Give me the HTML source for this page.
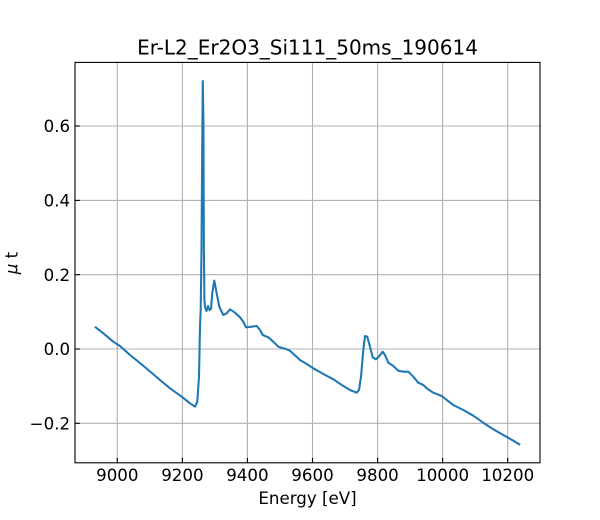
<!DOCTYPE html>
<html>
<head>
<meta charset="utf-8">
<style>
html,body{margin:0;padding:0;background:#fff;}
svg{display:block;}
text{font-family:"DejaVu Sans","Liberation Sans",sans-serif;fill:#000;}
</style>
</head>
<body>
<svg width="600" height="520" viewBox="0 0 600 520" xmlns="http://www.w3.org/2000/svg">
<rect x="0" y="0" width="600" height="520" fill="#fff"/>
<!-- grid -->
<g stroke="#b0b0b0" stroke-width="1.1" fill="none">
<line x1="117.3" y1="62.4" x2="117.3" y2="462.8"/>
<line x1="182.4" y1="62.4" x2="182.4" y2="462.8"/>
<line x1="247.4" y1="62.4" x2="247.4" y2="462.8"/>
<line x1="312.5" y1="62.4" x2="312.5" y2="462.8"/>
<line x1="377.6" y1="62.4" x2="377.6" y2="462.8"/>
<line x1="442.6" y1="62.4" x2="442.6" y2="462.8"/>
<line x1="507.7" y1="62.4" x2="507.7" y2="462.8"/>
<line x1="75" y1="423.3" x2="540" y2="423.3"/>
<line x1="75" y1="349" x2="540" y2="349"/>
<line x1="75" y1="274.7" x2="540" y2="274.7"/>
<line x1="75" y1="200.4" x2="540" y2="200.4"/>
<line x1="75" y1="126" x2="540" y2="126"/>
</g>
<!-- data -->
<polyline fill="none" stroke="#1f77b4" stroke-width="2.08" stroke-linejoin="round" stroke-linecap="square" points="
95.7,327.3 103.3,333.3 113.3,341.7 120,346 130,355 138.3,361.7 148.3,370 160,380 170,388.3 181.7,396.7 190,403.3 195,406.7
197.3,401.7 199,376.7 200,326.7 200.7,310 201.5,250 202.2,150 202.8,81 203.4,120 203.9,250 204.4,300 205,307
206.5,311 208,306 209.5,310 211,309 212.3,293 214.3,280.7 216.7,293.3 219.3,306.7 223.3,315 226.7,313.3 230,309.3
235,312.7 240,317.3 243.3,321.7 246,327.3 251.7,326.7 256.7,326 260,330 262.7,335 268.3,337.3 273.3,341.7 278.3,346.7
286.7,349.3 290,350.7 300,360 306.7,364 313.3,368.3 323.3,374 333.3,379.3 343.3,386 350,390 356.7,392.7 359,390
361,376.7 363.3,350 365,336 367.3,336.7 370,346.7 372.7,357.3 376,359.3 379.3,356 382.7,351.7 385,355 388.3,362.7
393.3,366 398.3,370.7 403.3,371.7 408.3,371.7 413.3,376.7 418.3,382.7 423.3,385 426.7,388.3 433.3,392.7 441.7,396
446.7,400 453.3,405 463.3,410 473.3,415.7 483.3,422.7 493.3,429.3 503.3,435 513.3,440.7 519.3,444.3"/>
<!-- ticks (inward) -->
<g stroke="#000" stroke-width="1.1">
<line x1="117.3" y1="462.8" x2="117.3" y2="457.9"/>
<line x1="182.4" y1="462.8" x2="182.4" y2="457.9"/>
<line x1="247.4" y1="462.8" x2="247.4" y2="457.9"/>
<line x1="312.5" y1="462.8" x2="312.5" y2="457.9"/>
<line x1="377.6" y1="462.8" x2="377.6" y2="457.9"/>
<line x1="442.6" y1="462.8" x2="442.6" y2="457.9"/>
<line x1="507.7" y1="462.8" x2="507.7" y2="457.9"/>
<line x1="75" y1="423.3" x2="79.9" y2="423.3"/>
<line x1="75" y1="349" x2="79.9" y2="349"/>
<line x1="75" y1="274.7" x2="79.9" y2="274.7"/>
<line x1="75" y1="200.4" x2="79.9" y2="200.4"/>
<line x1="75" y1="126" x2="79.9" y2="126"/>
</g>
<!-- spines -->
<rect x="75" y="62.4" width="465" height="400.4" fill="none" stroke="#000" stroke-width="1.1"/>
<!-- x tick labels -->
<g font-size="16.67" text-anchor="middle">
<text x="117.3" y="480.8">9000</text>
<text x="182.4" y="480.8">9200</text>
<text x="247.4" y="480.8">9400</text>
<text x="312.5" y="480.8">9600</text>
<text x="377.6" y="480.8">9800</text>
<text x="442.6" y="480.8">10000</text>
<text x="507.7" y="480.8">10200</text>
</g>
<!-- y tick labels -->
<g font-size="16.67" text-anchor="end">
<text x="70.1" y="429.4">−0.2</text>
<text x="70.1" y="355.1">0.0</text>
<text x="70.1" y="280.8">0.2</text>
<text x="70.1" y="206.5">0.4</text>
<text x="70.1" y="132.1">0.6</text>
</g>
<!-- axis labels -->
<text x="307.5" y="504" font-size="16.67" text-anchor="middle">Energy [eV]</text>
<text transform="translate(17.5,263) rotate(-90)" font-size="16.67" text-anchor="middle"><tspan font-style="italic">μ</tspan> t</text>
<!-- title -->
<text x="307.5" y="54.5" font-size="20" text-anchor="middle">Er-L2_Er2O3_Si111_50ms_190614</text>
</svg>
</body>
</html>
